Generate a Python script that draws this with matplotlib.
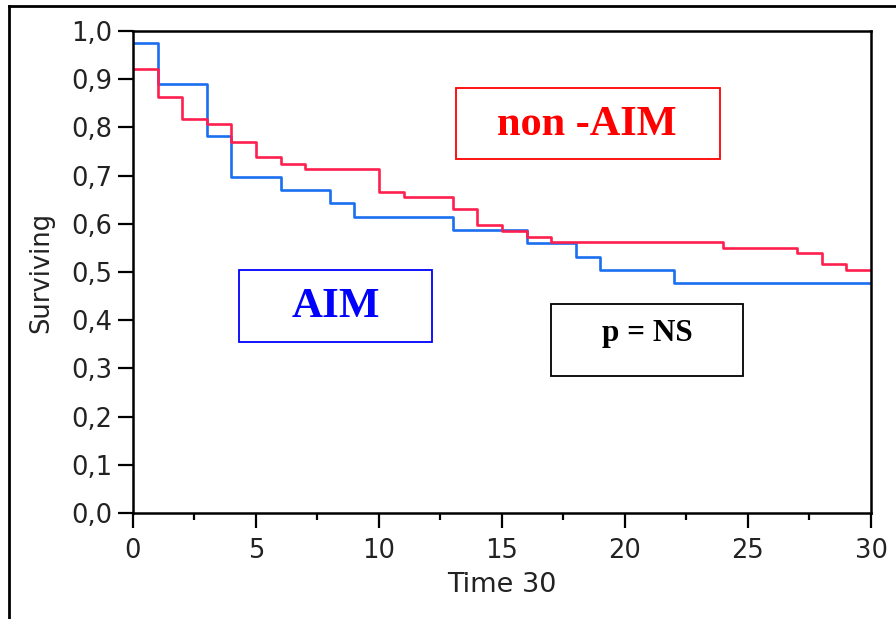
import matplotlib
matplotlib.use("Agg")
import matplotlib.pyplot as plt
from matplotlib.patches import Rectangle
from matplotlib.lines import Line2D
from matplotlib.ticker import MultipleLocator, FuncFormatter

# Kaplan-Meier steps
aim_t = [0, 1, 3, 4, 6, 8, 9, 13, 16, 18, 19, 22, 30]
aim_s = [0.975, 0.890, 0.782, 0.698, 0.670, 0.643, 0.615, 0.587, 0.560, 0.531, 0.504, 0.477, 0.477]

non_t = [0, 1, 2, 3, 4, 5, 6, 7, 10, 11, 13, 14, 15, 16, 17, 24, 27, 28, 29, 30]
non_s = [0.921, 0.864, 0.817, 0.807, 0.770, 0.739, 0.724, 0.713, 0.666, 0.656,
         0.631, 0.597, 0.585, 0.573, 0.562, 0.550, 0.539, 0.517, 0.504, 0.504]

labels = ["non -AIM", "AIM", "p = NS"]

fig = plt.figure(figsize=(8.96, 6.19), dpi=100)
ax = fig.add_axes([0.1484, 0.1712, 0.8237, 0.7787])

ax.step(aim_t, aim_s, where="post", color="#1a6ff0", lw=1.9)
ax.step(non_t, non_s, where="post", color="#ff1f4f", lw=1.9)

ax.set_xlim(0, 30)
ax.set_ylim(0, 1)
ax.xaxis.set_major_locator(MultipleLocator(5))
ax.xaxis.set_minor_locator(MultipleLocator(2.5))
ax.yaxis.set_major_locator(MultipleLocator(0.1))
ax.yaxis.set_major_formatter(FuncFormatter(lambda v, p: f"{v:.1f}".replace(".", ",")))
ax.tick_params(which="major", length=11, width=1.6, labelsize=18.5, colors="black")
ax.tick_params(axis="y", which="major", pad=4)
ax.tick_params(axis="x", which="major", pad=7)
ax.tick_params(which="minor", length=5, width=1.6)
for tl in ax.get_xticklabels() + ax.get_yticklabels():
    tl.set_color("#222222")
for sp in ax.spines.values():
    sp.set_linewidth(1.8)

ax.set_xlabel("Time 30", fontsize=19.5, color="#222222", labelpad=6)
ax.set_ylabel("Surviving", fontsize=18.5, color="#222222", labelpad=12)

# annotation boxes
serif = dict(family="Liberation Serif", weight="bold")
boxes = [
    (0.4377, 0.7344, 0.3577, 0.1473, "red", 0.615, 0.805, 30.5),
    (0.1436, 0.3548, 0.2615, 0.1493, "blue", 0.275, 0.427, 31),
    (0.5664, 0.2842, 0.2602, 0.1494, "black", 0.697, 0.373, 22.5),
]
for (x0, y0, w, h, c, tx, ty, fs), txt in zip(boxes, labels):
    ax.add_patch(Rectangle((x0, y0), w, h, transform=ax.transAxes,
                           fill=False, edgecolor=c, lw=1.3))
    ax.text(tx, ty, txt, transform=ax.transAxes, color=c, fontsize=fs,
            ha="center", va="center", **serif)

# outer frame (top and left only visible)
fig.add_artist(Line2D([0.0095, 1.0], [0.9895, 0.9895], color="black", lw=2))
fig.add_artist(Line2D([0.0095, 0.0095], [0.0, 0.9895], color="black", lw=2))

fig.savefig("out.png", dpi=100)
